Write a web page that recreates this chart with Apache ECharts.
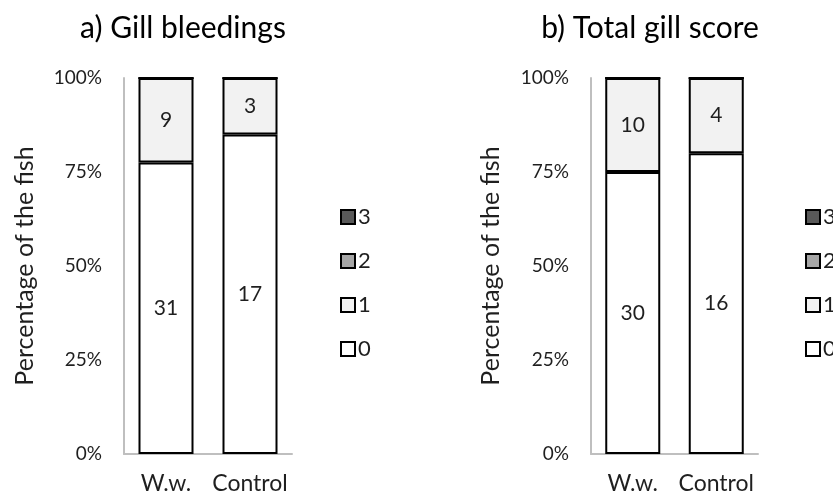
<!DOCTYPE html>
<html>
<head>
<meta charset="utf-8">
<script src="https://cdn.jsdelivr.net/npm/echarts@6/dist/echarts.min.js"></script>
<style>html,body{margin:0;padding:0;background:#fff;}#c{width:833px;height:497px;}</style>
</head>
<body>
<div id="c"></div>
<script>
const categories = ['W.w.', 'Control'];
const scores = ['0', '1', '2', '3'];
const scoreColors = ['#ffffff', '#f2f2f2', '#a6a6a6', '#595959'];
const titleA = 'a) Gill bleedings';
const titleB = 'b) Total gill score';
// counts of fish per score, per category
const bleedScore0 = [31, 17];
const bleedScore1 = [9, 3];
const bleedScore2 = [0, 0];
const bleedScore3 = [0, 0];
const totalScore0 = [30, 16];
const totalScore1 = [10, 4];
const totalScore2 = [0, 0];
const totalScore3 = [0, 0];
const yTicks = [0, 25, 50, 75, 100];

const FONT = 'Lato';
const TXT = '#1f1f1f';

function makeSeries(counts, idx) {
  const totals = categories.map((_, i) => counts.reduce((s, arr) => s + arr[i], 0));
  return counts.map((arr, k) => ({
    name: scores[k],
    type: 'bar',
    stack: 'p' + idx,
    xAxisIndex: idx,
    yAxisIndex: idx,
    barWidth: 55,
    data: arr.map((v, i) => ({ value: v / totals[i] * 100, count: v })),
    itemStyle: { color: scoreColors[k], borderColor: '#000', borderWidth: 2 },
    label: {
      show: true,
      position: 'inside',
      fontFamily: FONT,
      fontSize: 21,
      color: TXT,
      formatter: p => (p.data.count > 0 ? String(p.data.count) : '')
    },
    emphasis: { disabled: true }
  }));
}

const chart = echarts.init(document.getElementById('c'));
const axisY = (idx) => ({
  type: 'value', gridIndex: idx, min: yTicks[0], max: yTicks[yTicks.length - 1], interval: 25,
  name: 'Percentage of the fish', nameLocation: 'middle', nameGap: idx === 0 ? 87 : 88,
  nameTextStyle: { fontFamily: FONT, fontSize: 25, color: TXT },
  axisLine: { show: true, lineStyle: { color: '#bfbfbf', width: 2 } },
  axisTick: { show: false },
  splitLine: { show: false },
  axisLabel: { fontFamily: FONT, fontSize: 19, color: TXT, margin: 22, formatter: '{value}%' }
});
const axisX = (idx) => ({
  type: 'category', gridIndex: idx, data: categories,
  axisLine: { lineStyle: { color: '#bfbfbf', width: 2 } },
  axisTick: { show: false },
  axisLabel: { fontFamily: FONT, fontSize: 23, color: TXT, margin: 18, interval: 0 }
});
const legendCfg = (left) => ({
  orient: 'vertical', left: left, top: 201,
  data: ['3', '2', '1', '0'],
  itemWidth: 14, itemHeight: 14, itemGap: 22,
  icon: 'rect',
  itemStyle: { borderColor: '#000', borderWidth: 2 },
  textStyle: { fontFamily: FONT, fontSize: 22, color: TXT, padding: [0, 0, 0, -2] },
  selectedMode: false
});

chart.setOption({
  animation: false,
  backgroundColor: '#fff',
  title: [
    { text: titleA, left: 178, top: 8, textAlign: 'center', textStyle: { fontFamily: FONT, fontSize: 30, fontWeight: 'normal', color: '#000' } },
    { text: titleB, left: 645, top: 8, textAlign: 'center', textStyle: { fontFamily: FONT, fontSize: 30, fontWeight: 'normal', color: '#000' } }
  ],
  legend: [legendCfg(335), legendCfg(800)],
  grid: [
    { left: 124, right: 541, top: 78, bottom: 43 },
    { left: 591, right: 75, top: 78, bottom: 43 }
  ],
  xAxis: [axisX(0), axisX(1)],
  yAxis: [axisY(0), axisY(1)],
  series: [
    ...makeSeries([bleedScore0, bleedScore1, bleedScore2, bleedScore3], 0),
    ...makeSeries([totalScore0, totalScore1, totalScore2, totalScore3], 1)
  ]
});
</script>
</body>
</html>
